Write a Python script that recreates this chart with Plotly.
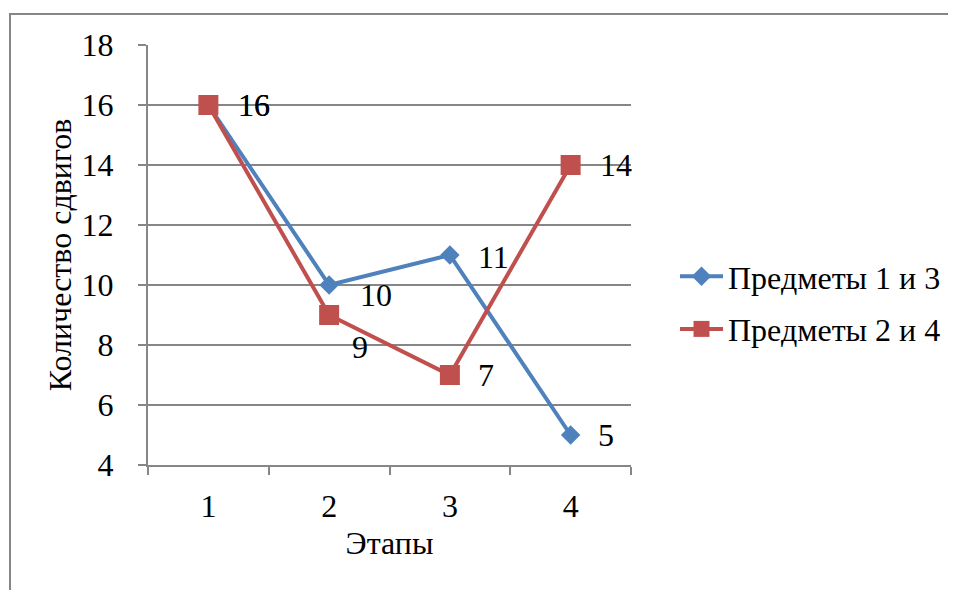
import plotly.graph_objects as go

stages = ["1", "2", "3", "4"]
series1_name = "Предметы 1 и 3"
series1 = [16, 10, 11, 5]
series2_name = "Предметы 2 и 4"
series2 = [16, 9, 7, 14]
y_ticks = [4, 6, 8, 10, 12, 14, 16, 18]

FONT = "Times New Roman, Liberation Serif, Tinos, DejaVu Serif, serif"
BLUE = "#4F81BD"
RED = "#C0504D"
GRID = "#868686"
F = dict(family=FONT, size=32, color="black")

fig = go.Figure()
fig.add_trace(go.Scatter(x=stages, y=series1, name=series1_name, mode="lines+markers",
                         legendgroup="a",
                         line=dict(color=BLUE, width=4),
                         marker=dict(symbol="diamond", size=15, color=BLUE)))
fig.add_trace(go.Scatter(x=stages, y=series2, name=series2_name, mode="lines+markers",
                         legendgroup="b",
                         line=dict(color=RED, width=4),
                         marker=dict(symbol="square", size=20, color=RED)))

# data labels (Excel-style, to the right of points)
lab1_shift = [(28, 0), (29, -10), (26, -2), (25, 0)]
lab2_shift = [(28, 0), (21, -32), (26, 0), (27, 0)]
for vals, shifts in ((series1, lab1_shift), (series2, lab2_shift)):
    for i, (yv, (dx, dy)) in enumerate(zip(vals, shifts)):
        fig.add_annotation(x=i, y=yv, text=str(yv), showarrow=False,
                           xanchor="left", yanchor="middle", xshift=dx, yshift=dy,
                           font=F)

# chart border
fig.add_shape(type="rect", xref="paper", yref="paper",
              x0=(2 - 140) / 483, x1=2.0, y0=-1.0, y1=(457 - 6) / 420,
              line=dict(color=GRID, width=2), layer="below")

fig.update_layout(
    width=948, height=582,
    margin=dict(l=140, r=325, t=37, b=125, autoexpand=False),
    paper_bgcolor="white", plot_bgcolor="white",
    font=F,
    showlegend=True,
    legend=dict(xref="container", yref="container", x=667 / 948, y=1 - 295 / 582,
                xanchor="left", yanchor="middle",
                font=F, itemwidth=43, traceorder="grouped",
                tracegroupgap=8, bgcolor="rgba(0,0,0,0)"),
    xaxis=dict(type="category", range=[-0.5, 3.5], title=dict(text="Этапы", standoff=8, font=F),
               showgrid=False, showline=True, linecolor=GRID, linewidth=2,
               ticks="outside", tickson="boundaries", ticklen=8, tickcolor=GRID, tickwidth=2,
               tickfont=F, ticklabelstandoff=12, zeroline=False),
    yaxis=dict(range=[4, 18], tickvals=y_ticks,
               title=dict(text="Количество сдвигов", standoff=0, font=F),
               showgrid=True, gridcolor=GRID, gridwidth=2,
               showline=True, linecolor=GRID, linewidth=2,
               ticks="outside", ticklen=8, tickcolor=GRID, tickwidth=2,
               tickfont=F, ticklabelstandoff=18, zeroline=False),
)

fig.write_html("out.html")
